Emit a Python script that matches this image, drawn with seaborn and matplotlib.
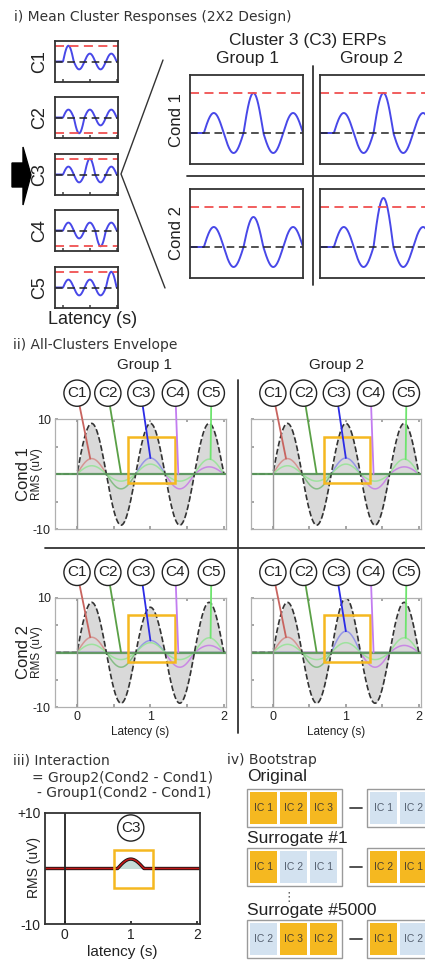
import numpy as np
import pandas as pd
import seaborn as sns
import matplotlib.pyplot as plt
from matplotlib.patches import Rectangle, Polygon

W, H = 425, 965

# waveform sampling; every lobe is one half cycle of 0.4 s
latency = np.linspace(-0.3, 2.05, 941)
lobe_len = 0.4

# i) mean cluster ERPs: amplitude of each of the 5 lobes
cluster_names = ['C1', 'C2', 'C3', 'C4', 'C5']
cluster_lobes = [[2, 1, 1, 1, 1],
                 [1, 2, 1, 1, 1],
                 [1, 1, 2, 1, 1],
                 [1, 1, 1, 2, 1],
                 [1, 1, 1, 1, 2]]
cluster_thresh = [2, -2, 2, -2, 2]

# C3 ERPs, middle lobe peak, rows = condition, cols = group
groups = ['Group 1', 'Group 2']
conds = ['Cond 1', 'Cond 2']
c3_peak = [[2.0, 2.0],
           [1.5, 2.45]]
c3_thresh = 2.0

# ii) all-clusters envelope (uV), rows = condition, cols = group
env_lobes = [[[9.2, 9.3, 9.2, 9.3, 9.2], [9.2, 9.3, 9.2, 9.3, 9.2]],
             [[9.2, 9.3, 8.3, 9.3, 9.2], [9.2, 9.3, 10.0, 9.3, 9.2]]]
rms_lobes = [[2.8, 0, 0, 0, 0],
             [0, 2.7, 0, 0, 0],
             [0, 0, 2.9, 0, 0],
             [0, 0, 0, 2.7, 1.3],
             [1.5, 1.3, 1.8, 1.3, 2.7]]
c3_rms = [[2.9, 2.9],
          [2.2, 3.9]]
label_x = [0.0, 0.42, 0.87, 1.34, 1.83]
pointer_x = [0.18, 0.6, 1.0, 1.38, 1.82]
pointer_to_zero = [False, True, False, True, False]

# iii) interaction
inter_lobes = [0, 0, 1.7, 0, 0]

# iv) bootstrap
boot_titles = ['Original', 'Surrogate #1', 'Surrogate #5000']
boot_left = [['IC 1', 'IC 2', 'IC 3'], ['IC 1', 'IC 2', 'IC 1'], ['IC 2', 'IC 3', 'IC 2']]
boot_left_sel = [[1, 1, 1], [1, 0, 0], [0, 1, 1]]
boot_right = [['IC 1', 'IC 2'], ['IC 2', 'IC 1'], ['IC 1', 'IC 2']]
boot_right_sel = [[0, 0], [1, 1], [1, 0]]

pointer_colors = ['#c8645f', '#5aa046', '#2c2ce6', '#c27cf0', '#6ee46e']
curve_colors = ['#d48a86', '#78b878', '#8c8ce8', '#c77ae6', '#94e494']
BLUE = '#4848e8'
RED = '#f05050'
GOLD = '#f5b820'
SKY = '#d3e2f0'
INK = '#222222'


def wave(lobes):
    lobes = np.asarray(lobes, float)
    idx = np.clip((latency // lobe_len).astype(int), 0, len(lobes) - 1)
    y = np.sin(np.pi * latency / lobe_len) * lobes[idx]
    y[(latency < 0) | (latency > 2.0)] = 0
    return y


sns.set_theme(style='white')
plt.rcParams['font.family'] = ['Liberation Sans', 'DejaVu Sans']

fig = plt.figure(figsize=(W / 100, H / 100), dpi=100)


def px_axes(x0, y0, x1, y1):
    return fig.add_axes([x0 / W, 1 - y1 / H, (x1 - x0) / W, (y1 - y0) / H])


def frame(ax, color, lw):
    for s in ax.spines.values():
        s.set_visible(True)
        s.set_color(color)
        s.set_linewidth(lw)


def draw_erp(ax, lobes, thresh, xlim, ylim):
    df = pd.DataFrame({'latency': latency, 'uV': wave(lobes)})
    sns.lineplot(data=df, x='latency', y='uV', ax=ax, color=BLUE, lw=1.4,
                 estimator=None, sort=False)
    ax.axhline(0, color=INK, lw=1.1, ls=(0, (5, 3)))
    ax.axhline(thresh, color=RED, lw=1.3, ls=(0, (5, 3)))
    ax.set_xlim(*xlim)
    ax.set_ylim(*ylim)
    ax.set_xlabel('')
    ax.set_ylabel('')
    ax.set_yticks([])
    frame(ax, '#333333', 1.3)


# ---------- i) small cluster panels ----------
small_tops = [41, 97, 154, 210, 267]
for i, name in enumerate(cluster_names):
    top = small_tops[i]
    ax = px_axes(55, top, 118, top + 41)
    draw_erp(ax, cluster_lobes[i], cluster_thresh[i], (-0.3, 2.05), (-2.6, 2.6))
    ax.set_xticks([0, 1, 2])
    ax.tick_params(axis='x', bottom=True, direction='in', length=2,
                   color='#555555', labelbottom=False)
    fig.text(40 / W, 1 - (top + 20.5) / H, name, rotation=90, ha='center',
             va='center', fontsize=13, color=INK)

# C3 ERPs 2x2
big_x = [(190, 303), (320, 433)]
big_y = [(75, 164), (189, 278)]
for r in range(2):
    for c in range(2):
        ax = px_axes(big_x[c][0], big_y[r][0], big_x[c][1], big_y[r][1])
        draw_erp(ax, [1, 1, c3_peak[r][c], 1, 1], c3_thresh, (-0.28, 2.0), (-1.55, 2.9))
        ax.set_xticks([])

# ---------- ii) envelope panels ----------
env_x = [(55, 226), (251, 421)]
env_y = [(419, 529), (598, 707)]
for r in range(2):
    for c in range(2):
        ax = px_axes(env_x[c][0], env_y[r][0], env_x[c][1], env_y[r][1])
        env = wave(env_lobes[r][c])
        ax.fill_between(latency, 0, env, color='#d9d9d9', lw=0)
        for k in range(5):
            lobes = list(rms_lobes[k])
            if k == 2:
                lobes[2] = c3_rms[r][c]
            sns.lineplot(x=latency, y=wave(lobes), ax=ax, color=curve_colors[k],
                         lw=1.1, alpha=0.85, estimator=None, sort=False)
        sns.lineplot(x=latency, y=env, ax=ax, color='#333333', lw=1.2,
                     ls=(0, (3.5, 1.5)), estimator=None, sort=False)
        ax.axhline(0, color='#5a9a5a', lw=1.6, alpha=0.9)
        ax.axvline(0, color='#9a9a9a', lw=1.0)
        ax.add_patch(Rectangle((0.7, -1.7), 0.63, 8.5, fill=False, ec=GOLD, lw=1.8,
                               zorder=5))
        for k, name in enumerate(cluster_names):
            lobe_peak = (c3_rms[r][c] if k == 2 else rms_lobes[k][k])
            py = 0 if pointer_to_zero[k] else lobe_peak
            ax.annotate(name, xy=(pointer_x[k], py), xytext=(label_x[k], 14.7),
                        ha='center', va='center', fontsize=11, color=INK,
                        bbox=dict(boxstyle='circle,pad=0.22', fc='white', ec=INK, lw=1.0),
                        arrowprops=dict(arrowstyle='-', color=pointer_colors[k], lw=1.3,
                                        shrinkA=0, shrinkB=0),
                        annotation_clip=False, zorder=6)
        ax.set_xlim(-0.3, 2.03)
        ax.set_ylim(-10, 10)
        ax.set_xlabel('')
        ax.set_ylabel('')
        ax.set_yticks([-10, -5, 0, 5, 10])
        ax.set_yticklabels(['-10', '', '', '', '10'] if c == 0 else [''] * 5)
        ax.set_xticks([0, 0.5, 1, 1.5, 2])
        ax.set_xticklabels(['0', '', '1', '', '2'] if r == 1 else [''] * 5)
        ax.tick_params(direction='in', length=2.5, color='#9a9a9a', left=True,
                       bottom=True, top=True, labelsize=9, labelcolor=INK, pad=3)
        frame(ax, '#b0b0b0', 0.9)
        if r == 1:
            ax.set_xlabel('Latency (s)', fontsize=8.5, color=INK, labelpad=2)

# ---------- iii) interaction ----------
ax = px_axes(45, 813, 200, 924)
inter = wave(inter_lobes)
ax.fill_between(latency, 0, inter, color='#c6dcd8', lw=0)
sns.lineplot(x=latency, y=inter, ax=ax, color='#111111', lw=2.4, estimator=None, sort=False)
sns.lineplot(x=latency, y=inter, ax=ax, color='#c01818', lw=1.2, estimator=None, sort=False)
ax.axvline(0, color=INK, lw=1.3)
ax.add_patch(Rectangle((0.75, -3.5), 0.59, 6.8, fill=False, ec=GOLD, lw=1.8, zorder=5))
ax.annotate('C3', xy=(1.0, 7.3), ha='center', va='center', fontsize=11, color=INK,
            bbox=dict(boxstyle='circle,pad=0.22', fc='white', ec=INK, lw=1.0))
ax.set_xlim(-0.3, 2.05)
ax.set_ylim(-10, 10)
ax.set_xticks([0, 1, 2])
ax.set_xticklabels(['0', '1', '2'])
ax.set_yticks([-10, 10])
ax.set_yticklabels(['-10', '+10'])
ax.tick_params(direction='in', length=2, color=INK, bottom=True, labelsize=10,
               labelcolor=INK, pad=3)
ax.set_xlabel('latency (s)', fontsize=11, color=INK, labelpad=2)
ax.set_ylabel('')
frame(ax, '#333333', 1.3)

# ---------- overlay: titles, separators, bootstrap ----------
ov = fig.add_axes([0, 0, 1, 1], zorder=10)
ov.set_xlim(0, W)
ov.set_ylim(H, 0)
ov.axis('off')

dv = dict(family='DejaVu Sans', fontsize=10, color='#333333', va='center')
ov.text(14, 17, 'i) Mean Cluster Responses (2X2 Design)', **dv)
ov.text(93, 320, 'Latency (s)', ha='center', va='center', fontsize=13, color=INK)
ov.text(308, 41, 'Cluster 3 (C3) ERPs', ha='center', va='center', fontsize=12.5, color=INK)
for c, g in enumerate(groups):
    ov.text([248, 371][c], 59, g, ha='center', va='center', fontsize=12.5, color=INK)
for r, cd in enumerate(conds):
    ov.text(177, [120, 233][r], cd, rotation=90, ha='center', va='center',
            fontsize=12, color=INK)
ov.plot([313, 313], [66, 285], color='#333333', lw=1.3)
ov.plot([187, 425], [176, 176], color='#333333', lw=1.3)
ov.plot([163, 121, 165], [60, 174, 288], color='#333333', lw=1.0)
ov.add_patch(Polygon([(12, 163), (23, 163), (23, 147), (31, 175), (23, 205),
                      (23, 187), (12, 187)], closed=True, fc='black', ec='black'))

ov.text(13, 345, 'ii) All-Clusters Envelope', ha='left', **dv)
for c, g in enumerate(groups):
    ov.text([145, 337][c], 365, g, ha='center', va='center', fontsize=11, color=INK)
for r, cd in enumerate(conds):
    yc = [474, 652][r]
    ov.text(24, yc, cd, rotation=90, ha='center', va='center', fontsize=12, color=INK)
    ov.text(37, yc, 'RMS (uV)', rotation=90, ha='center', va='center', fontsize=8.5,
            color=INK)
ov.plot([238, 238], [380, 733], color='#333333', lw=1.3)
ov.plot([45, 425], [548, 548], color='#333333', lw=1.3)

ov.text(13, 760, 'iii) Interaction', **dv)
ov.text(32, 778, '= Group2(Cond2 - Cond1)', **dv)
ov.text(37, 793, '- Group1(Cond2 - Cond1)', **dv)
ov.text(34, 868, 'RMS (uV)', rotation=90, ha='center', va='center', fontsize=10,
        color=INK)

ov.text(227, 760, 'iv) Bootstrap', **dv)
row_tops = [789, 848, 920]
title_y = [777, 838, 911]
for i, t in enumerate(boot_titles):
    ov.text(247, title_y[i], t, ha='left', va='center', fontsize=12.5, color=INK)
    top = row_tops[i]
    for bx, cells, sel in [(247, boot_left[i], boot_left_sel[i]),
                           (367, boot_right[i], boot_right_sel[i])]:
        ov.add_patch(Rectangle((bx, top), 95, 38, fill=False, ec='#9a9a9a', lw=1.0))
        for j, lab in enumerate(cells):
            cx = bx + 3 + j * 30
            ov.add_patch(Rectangle((cx, top + 3), 27.5, 32, fc=GOLD if sel[j] else SKY,
                                   ec='none'))
            ov.text(cx + 13.5, top + 19, lab, ha='center', va='center', fontsize=7.5,
                    color='#4a4030' if sel[j] else '#556070')
    ov.plot([350, 362], [top + 19, top + 19], color='#444444', lw=1.3)
ov.text(289, 897, '\u22ee', ha='center', va='center', fontsize=9, color='#555555',
        family='DejaVu Sans')

fig.savefig('out.png', dpi=100)
